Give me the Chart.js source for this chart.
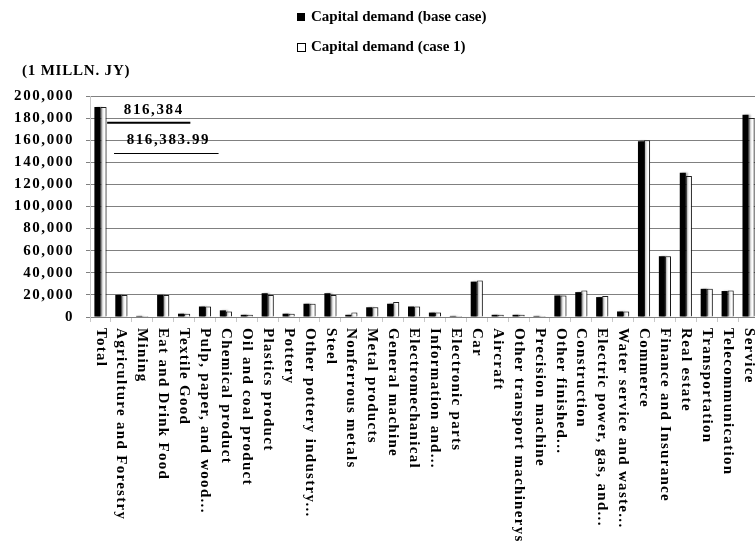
<!DOCTYPE html>
<html>
<head>
<meta charset="utf-8">
<script src="https://cdn.jsdelivr.net/npm/chart.js@4.4.0/dist/chart.umd.min.js"></script>
<style>
  html, body { margin: 0; padding: 0; background: #fff; }
  #wrap { width: 755px; height: 543px; overflow: hidden; position: relative; }
  canvas { position: absolute; left: 0; top: 0; }
</style>
</head>
<body>
<div id="wrap"><canvas id="myChart" width="765" height="543"></canvas></div>
<script>
// sectors on the x axis
const categories = [
  "Total", "Agriculture and Forestry", "Mining", "Eat and Drink Food", "Textile Good",
  "Pulp, paper, and wood...", "Chemical product", "Oil and coal product", "Plastics product",
  "Pottery", "Other pottery industry...", "Steel", "Nonferrous metals", "Metal products",
  "General machine", "Electromechanical", "Information and...", "Electronic parts", "Car",
  "Aircraft", "Other transport machinerys", "Precision machine", "Other finished...",
  "Construction", "Electric power, gas, and...", "Water service and waste...", "Commerce",
  "Finance and Insurance", "Real estate", "Transportation", "Telecommunication", "Service"
];

// 1 MILLN. JY
const baseCase = [
  190000, 20000, 1000, 20000, 3000, 9500, 6000, 2000, 21500,
  3000, 12000, 21500, 2000, 8800,
  12000, 9500, 4000, 1000, 32000,
  2000, 2000, 1000, 19500,
  22500, 18000, 5000, 159000,
  55000, 130500, 25500, 23500, 183000
];
const case1 = [
  190000, 20000, 1000, 20000, 3000, 9500, 5000, 2000, 20000,
  3000, 12000, 20000, 4000, 8800,
  13500, 9500, 4000, 1000, 33000,
  2000, 2000, 1000, 19500,
  24000, 19000, 5000, 160000,
  55000, 127500, 25500, 24000, 180000
];

const seriesLabels = ["Capital demand (base case)", "Capital demand (case 1)"];
const yTicks = [0, 20000, 40000, 60000, 80000, 100000, 120000, 140000, 160000, 180000, 200000];
const unitLabel = "(1 MILLN. JY)";
const totalLabels = ["816,384", "816,383.99"];

const FONT = "Liberation Serif";

const extras = {
  id: 'extras',
  beforeDraw(chart) {
    // spread out like the original's tick text
    chart.ctx.letterSpacing = '1.6px';
  },
  beforeDatasetsDraw(chart) {
    const ctx = chart.ctx;
    ctx.save();
    ctx.shadowColor = 'rgba(0,0,0,0.35)';
    ctx.shadowOffsetX = 2;
    ctx.shadowBlur = 2;
  },
  afterDatasetsDraw(chart) {
    chart.ctx.restore();
  },
  afterDraw(chart) {
    const ctx = chart.ctx;
    const x = chart.scales.x, y = chart.scales.y;
    ctx.save();
    ctx.fillStyle = '#000';
    ctx.strokeStyle = '#000';

    // rotated category labels, reading downward
    ctx.font = 'bold 15px "' + FONT + '"';
    ctx.letterSpacing = '1.3px';
    ctx.textAlign = 'left';
    ctx.textBaseline = 'middle';
    categories.forEach((c, i) => {
      ctx.save();
      ctx.translate(x.getPixelForValue(i), x.top + 11);
      ctx.rotate(Math.PI / 2);
      ctx.fillText(c, 0, 0);
      ctx.restore();
    });

    // legend, stacked
    ctx.font = 'bold 15px "' + FONT + '"';
    ctx.letterSpacing = '0px';
    ctx.textBaseline = 'middle';
    const lx = 297;
    [17, 47].forEach((ly, i) => {
      ctx.lineWidth = 1;
      if (i === 0) {
        ctx.fillRect(lx, ly - 4, 8, 8);
      } else {
        ctx.strokeRect(lx + 0.5, ly - 3.5, 8, 8);
      }
      ctx.fillText(seriesLabels[i], lx + 14, ly);
    });

    // unit
    ctx.letterSpacing = '0.8px';
    ctx.fillText(unitLabel, 22, 71);

    // totals annotation
    ctx.letterSpacing = '1.6px';
    ctx.textAlign = 'center';
    const step = x.getPixelForValue(1) - x.getPixelForValue(0);
    const px = v => x.getPixelForValue(0) + v * step;
    ctx.fillText(totalLabels[0], px(2.55), y.getPixelForValue(187500));
    ctx.fillText(totalLabels[1], px(3.25), y.getPixelForValue(160500));
    ctx.lineWidth = 2;
    ctx.beginPath();
    ctx.moveTo(px(0.32), y.getPixelForValue(175800));
    ctx.lineTo(px(4.3), y.getPixelForValue(175800));
    ctx.stroke();
    ctx.lineWidth = 1;
    ctx.beginPath();
    ctx.moveTo(px(0.65), Math.round(y.getPixelForValue(148000)) + 0.5);
    ctx.lineTo(px(5.65), Math.round(y.getPixelForValue(148000)) + 0.5);
    ctx.stroke();
    ctx.restore();
  }
};

const ctx = document.getElementById('myChart').getContext('2d');
const chart = new Chart(ctx, {
  type: 'bar',
  data: {
    labels: categories,
    datasets: [{
      label: seriesLabels[0],
      data: baseCase,
      backgroundColor: '#000',
      borderColor: '#000',
      borderWidth: 0
    }, {
      label: seriesLabels[1],
      data: case1,
      backgroundColor: '#fff',
      borderColor: '#222',
      borderWidth: 1
    }]
  },
  options: {
    responsive: false,
    animation: false,
    layout: { padding: { top: 96, right: 6, bottom: 0, left: 0 } },
    datasets: { bar: { barPercentage: 1, categoryPercentage: 0.58 } },
    plugins: {
      legend: { display: false },
      tooltip: { enabled: false }
    },
    scales: {
      x: {
        grid: { drawOnChartArea: false, tickLength: 5, color: '#c8c8c8' },
        border: { color: '#808080' },
        ticks: { display: false },
        afterFit(s) { s.height = 226; }
      },
      y: {
        min: 0,
        max: 200000,
        afterBuildTicks(s) { s.ticks = yTicks.map(v => ({ value: v })); },
        grid: { color: '#808080', tickLength: 4 },
        border: { color: '#c8c8c8' },
        ticks: {
          color: '#000',
          font: { family: FONT, size: 15, weight: 'bold' },
          padding: 12,
          callback: v => v.toLocaleString('en-US')
        },
        afterFit(s) { s.width = 90; }
      }
    }
  },
  plugins: [extras]
});
</script>
</body>
</html>
